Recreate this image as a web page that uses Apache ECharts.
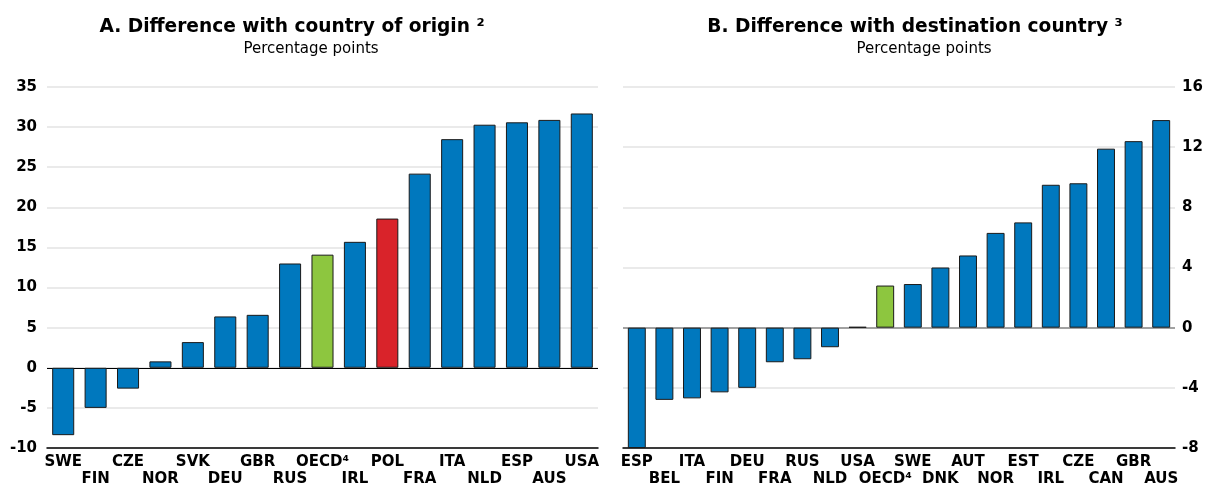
<!DOCTYPE html>
<html><head><meta charset="utf-8">
<script src="https://cdn.jsdelivr.net/npm/echarts@6/dist/echarts.min.js"></script>
<style>html,body{margin:0;padding:0;background:#fff}#c{width:1213px;height:488px}</style>
</head><body><div id="c"></div>
<script>
const catsA = ['SWE','FIN','CZE','NOR','SVK','DEU','GBR','RUS','OECD⁴','IRL','POL','FRA','ITA','NLD','ESP','AUS','USA'];
const valsA = [-8.4,-5.0,-2.6,0.8,3.2,6.4,6.6,13.0,14.1,15.7,18.6,24.2,28.5,30.3,30.6,30.9,31.7];
const catsB = ['ESP','BEL','ITA','FIN','DEU','FRA','RUS','NLD','USA','OECD⁴','SWE','DNK','AUT','NOR','EST','IRL','CZE','CAN','GBR','AUS'];
const valsB = [-8.0,-4.8,-4.7,-4.3,-4.0,-2.3,-2.1,-1.3,0.05,2.8,2.9,4.0,4.8,6.3,7.0,9.5,9.6,11.9,12.4,13.8];
const titleA = 'A. Difference with country of origin ²';
const titleB = 'B. Difference with destination country ³';
const subtitle = 'Percentage points';

const BLUE = '#0078BE', GREEN = '#8DC63F', RED = '#D9232A';
const FONT = 'DejaVu Sans, sans-serif';
function colorFor(c){ if (c.indexOf('OECD')===0) return GREEN; if (c==='POL') return RED; return BLUE; }

const chart = echarts.init(document.getElementById('c'));
const catLabel = {interval:0, color:'#000', fontFamily:FONT, fontSize:15, fontWeight:'bold', lineHeight:17, margin:6,
  formatter:(v,i)=> i%2 ? '\n'+v : v};
const yLabel = {color:'#000', fontFamily:FONT, fontSize:15, fontWeight:'bold'};
const tStyle = {fontFamily:FONT, fontSize:18.6, fontWeight:'bold', color:'#000'};
const sStyle = {fontFamily:FONT, fontSize:15, fontWeight:'normal', color:'#000'};
chart.setOption({
  animation:false,
  title:[
    {text:titleA, left:287, top:13, textAlign:'center', textStyle:tStyle},
    {text:titleB, left:910, top:13, textAlign:'center', textStyle:tStyle},
    {text:subtitle, left:306, top:37, textAlign:'center', textStyle:sStyle},
    {text:subtitle, left:919, top:37, textAlign:'center', textStyle:sStyle}
  ],
  grid:[
    {left:47, right:615, top:87, bottom:37},
    {left:623, right:38, top:87, bottom:37}
  ],
  xAxis:[
    {type:'category', gridIndex:0, data:catsA, axisLine:{onZero:false, lineStyle:{color:'#000', width:1.5}}, axisTick:{show:false}, axisLabel:catLabel},
    {type:'category', gridIndex:1, data:catsB, axisLine:{onZero:false, lineStyle:{color:'#000', width:1.5}}, axisTick:{show:false}, axisLabel:catLabel}
  ],
  yAxis:[
    {type:'value', gridIndex:0, min:-10, max:35, interval:5, position:'left', axisLine:{show:false}, axisTick:{show:false},
     axisLabel:Object.assign({margin:10}, yLabel), splitLine:{lineStyle:{color:'#e3e3e3', width:1.5}}},
    {type:'value', gridIndex:1, min:-8, max:16, interval:4, position:'right', axisLine:{show:false}, axisTick:{show:false},
     axisLabel:Object.assign({margin:7}, yLabel), splitLine:{lineStyle:{color:'#e3e3e3', width:1.5}}}
  ],
  series:[
    {type:'bar', xAxisIndex:0, yAxisIndex:0, barWidth:'68%',
     data:valsA.map((v,i)=>({value:v, itemStyle:{color:colorFor(catsA[i])}})),
     itemStyle:{borderColor:'#1a1a1a', borderWidth:1},
     markLine:{silent:true, symbol:'none', label:{show:false}, lineStyle:{color:'#000', width:1.2, type:'solid'}, data:[{yAxis:0}], z:1}},
    {type:'bar', xAxisIndex:1, yAxisIndex:1, barWidth:'65%',
     data:valsB.map((v,i)=>({value:v, itemStyle:{color:colorFor(catsB[i])}})),
     itemStyle:{borderColor:'#1a1a1a', borderWidth:1},
     markLine:{silent:true, symbol:'none', label:{show:false}, lineStyle:{color:'#888', width:1.5, type:'solid'}, data:[{yAxis:0}], z:1}}
  ]
});
</script></body></html>
